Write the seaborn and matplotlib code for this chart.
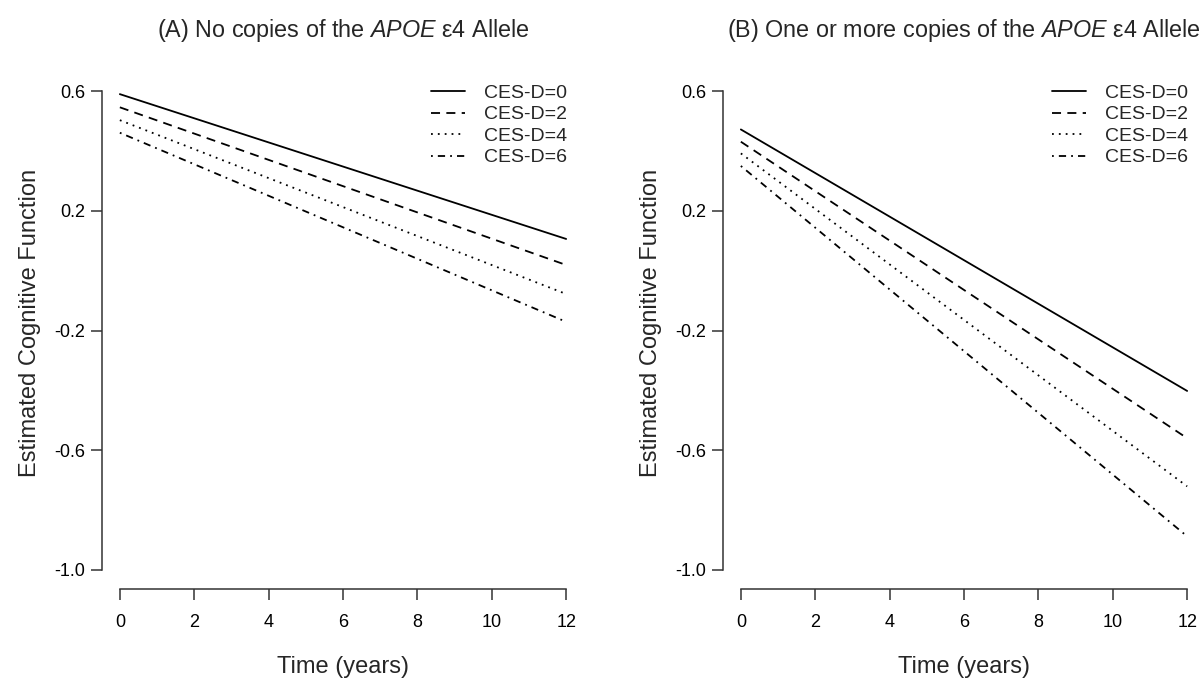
import numpy as np
import pandas as pd
import seaborn as sns
import matplotlib.pyplot as plt

# values (start at year 0, end at year 12)
years = [0, 12]
cesd_labels = ["CES-D=0", "CES-D=2", "CES-D=4", "CES-D=6"]
no_e4_start = [0.590, 0.546, 0.503, 0.461]
no_e4_end = [0.106, 0.019, -0.078, -0.171]
e4_start = [0.472, 0.431, 0.392, 0.350]
e4_end = [-0.402, -0.560, -0.721, -0.888]

titles = [r"(A) No copies of the $\mathit{APOE}$ ε4 Allele",
          r"(B) One or more copies of the $\mathit{APOE}$ ε4 Allele"]
x_ticks = [0, 2, 4, 6, 8, 10, 12]
y_ticks = [0.6, 0.2, -0.2, -0.6, -1.0]

sns.set_style("white")
plt.rcParams["font.family"] = ["Liberation Sans", "DejaVu Sans"]
plt.rcParams["mathtext.fontset"] = "custom"
plt.rcParams["mathtext.rm"] = "Liberation Sans"
plt.rcParams["mathtext.it"] = "Liberation Sans:italic"


def make_df(starts, ends):
    rows = []
    for lab, s, e in zip(cesd_labels, starts, ends):
        rows.append({"Time": years[0], "Cog": s, "CESD": lab})
        rows.append({"Time": years[1], "Cog": e, "CESD": lab})
    return pd.DataFrame(rows)


dash_map = {"CES-D=0": "", "CES-D=2": (5, 3.5), "CES-D=4": (1, 2.8), "CES-D=6": (1, 2.8, 4, 2.8)}

fig = plt.figure(figsize=(12.01, 6.81), dpi=100)
ax_a = fig.add_axes([102 / 1201, 92 / 681, 482 / 1201, 517 / 681])
ax_b = fig.add_axes([723 / 1201, 92 / 681, 482 / 1201, 517 / 681])

for ax, (st, en), title in zip([ax_a, ax_b],
                               [(no_e4_start, no_e4_end), (e4_start, e4_end)],
                               titles):
    df = make_df(st, en)
    sns.lineplot(data=df, x="Time", y="Cog", style="CESD", dashes=dash_map,
                 style_order=cesd_labels, color="black", linewidth=1.3,
                 legend=False, ax=ax)
    ax.set_xlim(-0.48, 12.48)
    ax.set_ylim(-1.064, 0.664)
    ax.set_xticks(x_ticks)
    ax.set_yticks(y_ticks)
    ax.set_yticklabels([f"{v:.1f}" for v in y_ticks])
    for side in ["top", "right"]:
        ax.spines[side].set_visible(False)
    ax.spines["left"].set_bounds(-1.0, 0.6)
    ax.spines["bottom"].set_bounds(0, 12)
    for side in ["left", "bottom"]:
        ax.spines[side].set_color("#333333")
        ax.spines[side].set_linewidth(1.1)
    ax.tick_params(axis="both", direction="out", length=8, width=1.1,
                   colors="#333333", labelcolor="black", labelsize=13,
                   left=True, bottom=True)
    ax.tick_params(axis="x", pad=10)
    ax.tick_params(axis="y", pad=4)
    ax.set_xlabel("Time (years)", fontsize=17, labelpad=18)
    ax.set_ylabel("Estimated Cognitive Function", fontsize=17)
    ax.yaxis.set_label_coords(-0.127, 0.515)
    ax.set_title(title, fontsize=16.8, pad=25)
    ax.legend(ax.lines, cesd_labels, loc="upper right", frameon=False,
              bbox_to_anchor=(0.985, 0.995), borderpad=0, fontsize=14,
              handlelength=1.75, handletextpad=0.95, labelspacing=0.2)

fig.savefig("out.png", dpi=100)
